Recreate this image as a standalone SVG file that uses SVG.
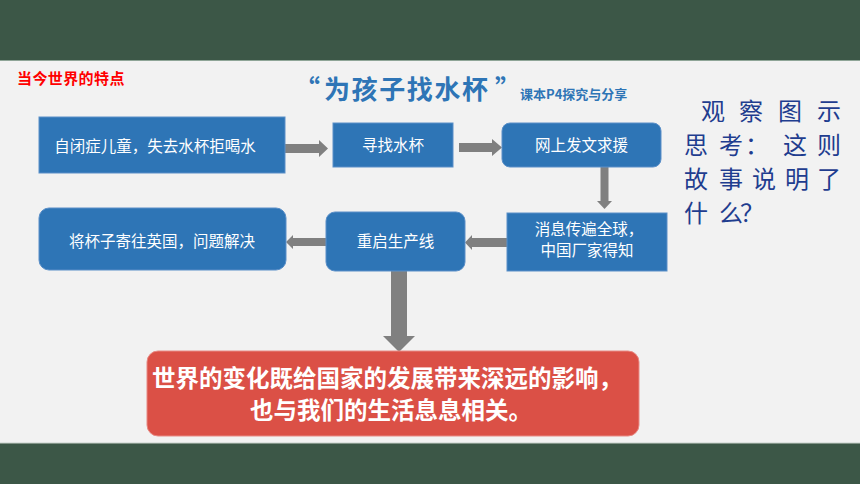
<svg xmlns="http://www.w3.org/2000/svg" width="860" height="484" viewBox="0 0 860 484">
<style>
.box{fill:#2e75b6;stroke:#5a8fc8;stroke-width:1}
.lbl{font-family:"Noto Sans CJK SC","Liberation Sans",sans-serif;font-size:15.5px;fill:#ffffff;text-anchor:middle}
.arr{fill:#808080}
.q{font-family:"Noto Sans CJK SC",sans-serif;font-size:24px;fill:#1f3d8f}
.big{font-family:"Noto Sans CJK SC",sans-serif;font-size:23.5px;font-weight:bold;fill:#ffffff;text-anchor:middle}
</style>
<rect x="0" y="0" width="860" height="484" fill="#3c5747"/>
<rect x="0" y="60" width="860" height="383" fill="#f2f2f2"/>
<line x1="0" y1="60.5" x2="860" y2="60.5" stroke="#8fa597" stroke-width="1"/>
<line x1="0" y1="443" x2="860" y2="443" stroke="#c9d3cc" stroke-width="1"/>

<text x="17" y="84" font-family="Noto Sans CJK SC,sans-serif" font-size="15" font-weight="bold" fill="#ff0000" letter-spacing="0.4">当今世界的特点</text>

<g id="title" font-family="Noto Sans CJK SC,sans-serif" font-weight="bold" fill="#2e75b6">
<text y="99" font-size="26"><tspan x="294">“</tspan><tspan x="324" textLength="164" lengthAdjust="spacing">为孩子找水杯</tspan><tspan x="495">”</tspan></text>
<text x="520" y="99" font-size="13">课本P4探究与分享</text>
</g>

<g id="question">
<text class="q" y="120"><tspan x="701 739 778 817">观察图示</tspan><tspan x="684 719 745 783 817" y="154">思考：这则</tspan><tspan x="684 719 752 785 817" y="188">故事说明了</tspan><tspan x="684 719 740" y="222">什么？</tspan></text>
</g>

<g id="connectors" class="arr">
<polygon points="285,144 319,144 319,140 328,148.5 319,157 319,153 285,153"/>
<polygon points="459,143 492,143 492,139 502,147.5 492,156 492,152 459,152"/>
<polygon points="600.5,167 608.5,167 608.5,201 612,201 604.5,209 597,201 600.5,201"/>
<polygon points="507,238 472,238 472,235 465,242.5 472,250 472,247 507,247"/>
<polygon points="326,238 293,238 293,235 286,242 293,249 293,246 326,246"/>
<polygon points="391,271 407,271 407,336 415,336 399,352 383,336 391,336"/>
</g>

<g id="n1"><rect class="box" x="39" y="117" width="246" height="56"/><text class="lbl" x="155" y="152" font-size="16">自闭症儿童，失去水杯拒喝水</text></g>
<g id="n2"><rect class="box" x="333" y="123" width="120" height="44"/><text class="lbl" x="393" y="151">寻找水杯</text></g>
<g id="n3"><rect class="box" x="502" y="123" width="159" height="44" rx="8"/><text class="lbl" x="581.5" y="151">网上发文求援</text></g>
<g id="n4"><rect class="box" x="507" y="213" width="160" height="58"/><text class="lbl" y="235" font-size="14.5"><tspan x="589">消息传遍全球，</tspan><tspan x="587" y="256">中国厂家得知</tspan></text></g>
<g id="n5"><rect class="box" x="326" y="212" width="139" height="59" rx="9"/><text class="lbl" x="395.5" y="247">重启生产线</text></g>
<g id="n6"><rect class="box" x="39" y="208" width="247" height="62" rx="10"/><text class="lbl" x="162" y="247" font-size="16">将杯子寄往英国，问题解决</text></g>

<g id="n7"><rect x="147" y="351" width="492" height="85" rx="11" fill="#db5046" stroke="#e88a84" stroke-width="1"/>
<text class="big" y="387"><tspan x="387">世界的变化既给国家的发展带来深远的影响，</tspan><tspan x="391" y="419">也与我们的生活息息相关。</tspan></text>
</g>
</svg>
